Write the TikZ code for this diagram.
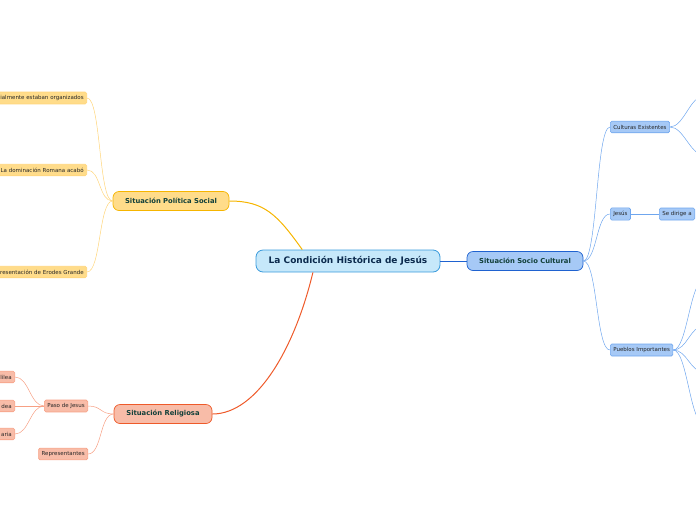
\documentclass[tikz,border=0pt]{standalone}
\usepackage{fontspec}
\setmainfont{DejaVu Sans}
\usepackage{xcolor}
\usepackage{tikz}
\usetikzlibrary{positioning}

\definecolor{rootfill}{HTML}{C6E8FA}
\definecolor{rootline}{HTML}{3A9BDC}
\definecolor{roottext}{HTML}{0C2B4E}
\definecolor{branchtext}{HTML}{12403A}
\definecolor{leaftext}{HTML}{262626}
\definecolor{yfill}{HTML}{FFDC8A}
\definecolor{yline}{HTML}{F6B500}
\definecolor{ylight}{HTML}{FFD57A}
\definecolor{rfill}{HTML}{F8BCA8}
\definecolor{rline}{HTML}{EE5A2A}
\definecolor{rlight}{HTML}{F7A084}
\definecolor{bfill}{HTML}{A6C9F6}
\definecolor{bline}{HTML}{1F62D0}
\definecolor{blight}{HTML}{6FA6EE}

\begin{document}
\begin{tikzpicture}[x=1pt, y=-1pt,
  root/.style={draw=rootline, fill=rootfill, line width=0.8pt, rounded corners=7pt, minimum width=184pt, minimum height=22pt, font=\fontsize{9}{10}\selectfont\bfseries, text=roottext},
  branch/.style={line width=0.7pt, rounded corners=6pt, minimum height=19pt, font=\fontsize{6.8}{8}\selectfont\bfseries, text=branchtext},
  leaf/.style={line width=0.6pt, rounded corners=1.5pt, minimum height=11.5pt, inner xsep=3pt, font=\fontsize{5.5}{6}\selectfont, text=leaftext},
  cut/.style={text width=#1, align=right},
  ybox/.style={draw=ylight, fill=yfill},
  rbox/.style={draw=rlight, fill=rfill},
  bbox/.style={draw=blight, fill=bfill},
  ylink/.style={draw=ylight, line width=0.5pt},
  rlink/.style={draw=rlight, line width=0.5pt},
  blink/.style={draw=blight, line width=0.5pt}]
  \useasboundingbox (0,0) rectangle (696,520);
  \clip (0,0) rectangle (696,520);

  % centre
  \node[root] (root) at (348,261) {La Condición Histórica de Jesús};

  % main branches
  \node[branch, draw=bline, fill=bfill, minimum width=116pt] (socio) at (525,261) {Situación Socio Cultural};
  \node[branch, draw=yline, fill=yfill, minimum width=116pt] (pol) at (171,201) {Situación Política Social};
  \node[branch, draw=rline, fill=rfill, minimum width=98pt] (rel) at (163,414) {Situación Religiosa};

  \draw[bline, line width=1pt] (root) -- (socio);
  \draw[yline, line width=1pt] (root.166) .. controls +(-25,-35) and +(35,0) .. (pol.east);
  \draw[rline, line width=1pt] (root.198) .. controls +(-18,75) and +(45,0) .. (rel.east);

  % politica social
  \node[leaf, ybox, cut=86pt, anchor=east] (pol1) at (87,98) {ialmente estaban organizados};
  \node[leaf, ybox, cut=86pt, anchor=east] (pol2) at (87,170) {La dominación Romana acabó};
  \node[leaf, ybox, cut=86pt, anchor=east] (pol3) at (87,272) {resentación de Erodes Grande};
  \foreach \n in {pol1,pol2,pol3}
    \draw[ylink] (pol.west) .. controls +(-14,0) and +(14,0) .. (\n.east);

  % religiosa
  \node[leaf, rbox, anchor=east] (paso) at (88,406) {Paso de Jesus};
  \node[leaf, rbox, anchor=east] (repr) at (88,454) {Representantes};
  \node[leaf, rbox, cut=30pt, anchor=east] (gal) at (15,377) {lilea};
  \node[leaf, rbox, cut=30pt, anchor=east] (jud) at (15,406) {dea};
  \node[leaf, rbox, cut=30pt, anchor=east] (sam) at (15,434) {aria};
  \foreach \n in {paso,repr}
    \draw[rlink] (rel.west) .. controls +(-14,0) and +(14,0) .. (\n.east);
  \foreach \n in {gal,jud,sam}
    \draw[rlink] (paso.west) .. controls +(-14,0) and +(14,0) .. (\n.east);

  % socio cultural
  \node[leaf, bbox, anchor=west] (cult) at (610,127) {Culturas Existentes};
  \node[leaf, bbox, anchor=west] (jesus) at (610,214) {Jesús};
  \node[leaf, bbox, anchor=west] (dirige) at (659,214) {Se dirige a};
  \node[leaf, bbox, anchor=west] (pueb) at (610,350) {Pueblos Importantes};
  \foreach \n in {cult,jesus,pueb}
    \draw[blink] (socio.east) .. controls +(14,0) and +(-14,0) .. (\n.west);
  \draw[blink] (jesus) -- (dirige);

  % branches leaving the page
  \coordinate (c1) at (704,96);
  \coordinate (c2) at (704,155);
  \coordinate (p1) at (704,280);
  \coordinate (p2) at (704,326);
  \coordinate (p3) at (704,372);
  \coordinate (p4) at (704,424);
  \foreach \n in {c1,c2}
    \draw[blink] (cult.east) .. controls +(14,0) and +(-14,0) .. (\n);
  \foreach \n in {p1,p2,p3,p4}
    \draw[blink] (pueb.east) .. controls +(14,0) and +(-14,0) .. (\n);
\end{tikzpicture}
\end{document}
